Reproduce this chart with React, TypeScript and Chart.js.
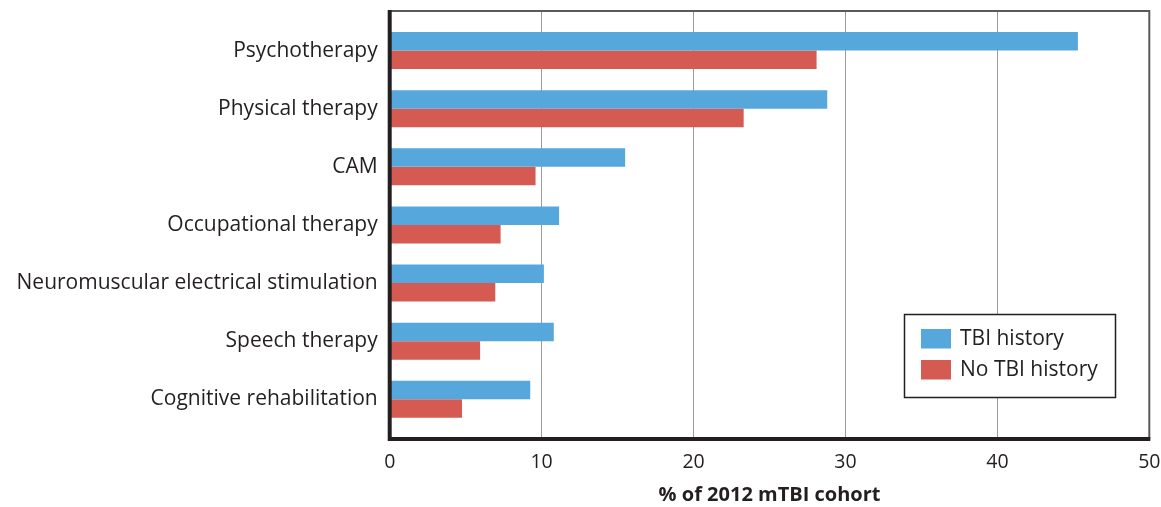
import React, { useEffect, useRef } from "react";
import { Chart, registerables } from "chart.js";

Chart.register(...registerables);

const categories = [
  "Psychotherapy",
  "Physical therapy",
  "CAM",
  "Occupational therapy",
  "Neuromuscular electrical stimulation",
  "Speech therapy",
  "Cognitive rehabilitation",
];
const seriesNames = ["TBI history", "No TBI history"];
const tbiHistory = [45.3, 28.8, 15.5, 11.15, 10.15, 10.8, 9.25];
const noTbiHistory = [28.1, 23.3, 9.6, 7.3, 6.95, 5.95, 4.76];
const xTicks = [0, 10, 20, 30, 40, 50];
const axisTitle = "% of 2012 mTBI cohort";

const BLUE = "#56A7DC";
const RED = "#D55B52";
const INK = "#231F20";
const FONT = "'Open Sans', sans-serif";

const framePlugin = {
  id: "frame",
  afterDraw(chart: any) {
    const { ctx, chartArea } = chart;
    const { left, right, top, bottom } = chartArea;
    ctx.save();
    ctx.strokeStyle = "#5a5a5a";
    ctx.lineWidth = 2;
    ctx.beginPath();
    ctx.moveTo(left, top);
    ctx.lineTo(right, top);
    ctx.lineTo(right, bottom);
    ctx.stroke();
    ctx.strokeStyle = INK;
    ctx.lineWidth = 4;
    ctx.beginPath();
    ctx.moveTo(left, top - 1);
    ctx.lineTo(left, bottom);
    ctx.lineTo(right + 1, bottom);
    ctx.stroke();

    const bx = 904.5, by = 314.5, bw = 211, bh = 83;
    ctx.fillStyle = "#ffffff";
    ctx.fillRect(bx, by, bw, bh);
    ctx.strokeStyle = INK;
    ctx.lineWidth = 1.5;
    ctx.strokeRect(bx, by, bw, bh);
    const colors = [BLUE, RED];
    ctx.font = `21px ${FONT}`;
    ctx.textBaseline = "middle";
    ctx.textAlign = "left";
    seriesNames.forEach((name, i) => {
      const sy = 329 + i * 31;
      ctx.fillStyle = colors[i];
      ctx.fillRect(921, sy, 30, 19.5);
      ctx.fillStyle = INK;
      ctx.fillText(name, 960, sy + 10);
    });
    ctx.restore();
  },
};

export default function App() {
  const ref = useRef<HTMLCanvasElement>(null);
  useEffect(() => {
    if (!ref.current) return;
    const chart = new Chart(ref.current, {
      type: "bar",
      data: {
        datasets: [
          {
            label: seriesNames[0],
            data: tbiHistory.map((v, i) => ({ x: v, y: i })),
            backgroundColor: BLUE,
          },
          {
            label: seriesNames[1],
            data: noTbiHistory.map((v, i) => ({ x: v, y: i })),
            backgroundColor: RED,
          },
        ],
      },
      options: {
        indexAxis: "y",
        responsive: false,
        animation: false,
        layout: { padding: { left: 0, right: 11.7, top: 11, bottom: 0 } },
        datasets: { bar: { categoryPercentage: 0.6365, barPercentage: 1 } },
        plugins: {
          legend: { display: false },
          tooltip: { enabled: false },
        },
        scales: {
          x: {
            type: "linear",
            min: 0,
            max: 50,
            afterBuildTicks: (scale: any) => {
              scale.ticks = xTicks.map((v) => ({ value: v }));
            },
            afterFit: (scale: any) => {
              scale.height = 68;
              scale.paddingLeft = 0;
              scale.paddingRight = 0;
            },
            grid: { color: "#9a9a9a", lineWidth: 1, drawTicks: false },
            border: { display: false },
            ticks: {
              padding: 12,
              color: INK,
              font: { family: FONT, size: 19.5 },
            },
            title: {
              display: true,
              text: axisTitle,
              color: INK,
              font: { family: FONT, size: 20, weight: "bold" },
              padding: { top: 4, bottom: 0 },
            },
          },
          y: {
            type: "linear",
            reverse: true,
            offset: false,
            min: -0.68,
            max: 6.683,
            afterBuildTicks: (scale: any) => {
              scale.ticks = categories.map((_, i) => ({ value: i }));
            },
            afterFit: (scale: any) => {
              scale.width = 389.7;
              scale.paddingTop = 0;
              scale.paddingBottom = 0;
            },
            grid: { display: false, drawTicks: false, offset: false },
            border: { display: false },
            ticks: {
              padding: 12,
              color: INK,
              font: { family: FONT, size: 21 },
              callback: (v: any) => categories[v as number] ?? "",
            },
          },
        },
      },
      plugins: [framePlugin],
    });
    return () => chart.destroy();
  }, []);
  return (
    <div style={{ position: "fixed", left: 0, top: 0, background: "#fff" }}>
      <canvas ref={ref} width={1161} height={507} />
    </div>
  );
}
